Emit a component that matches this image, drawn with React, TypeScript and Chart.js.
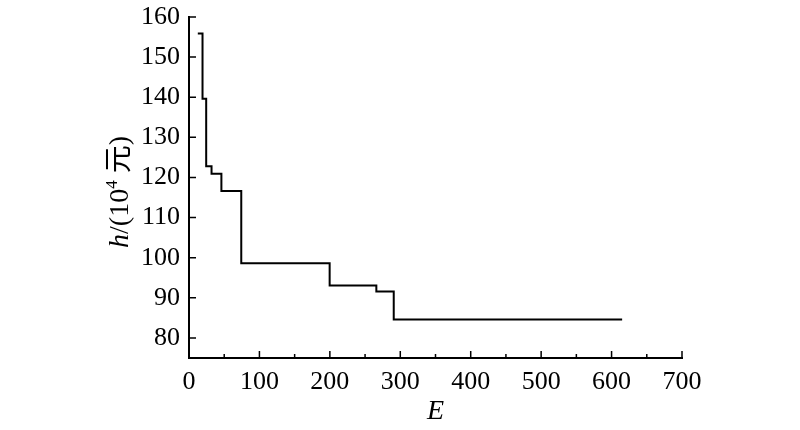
import React, { useEffect, useRef } from "react";
import { Chart, registerables } from "chart.js";

Chart.register(...registerables);

const stepE = [12.5, 19.2, 24.4, 32, 46, 74.2, 199.7, 266, 290.7, 615];
const stepH = [155.9, 139.6, 122.8, 120.9, 116.6, 98.6, 93.1, 91.6, 84.6, 84.6];
const xTicks = [0, 100, 200, 300, 400, 500, 600, 700];
const xMinorTicks = [50, 150, 250, 350, 450, 550, 650];
const yTicks = [80, 90, 100, 110, 120, 130, 140, 150, 160];
const xTitle = "E";
const yTitleParts = ["h", "/(10", "4", " 元)"];

const SERIF = "'Liberation Serif', 'Times New Roman', serif";

const tickPlugin = {
  id: "inwardTicks",
  afterDraw(chart: any) {
    const { ctx, chartArea, scales } = chart;
    const xs = scales.x;
    const ys = scales.y;
    ctx.save();
    ctx.strokeStyle = "#000";
    ctx.lineWidth = 1.5;
    ctx.beginPath();
    xTicks.forEach((v) => {
      const px = xs.getPixelForValue(v);
      ctx.moveTo(px, chartArea.bottom);
      ctx.lineTo(px, chartArea.bottom - 7);
    });
    xMinorTicks.forEach((v) => {
      const px = xs.getPixelForValue(v);
      ctx.moveTo(px, chartArea.bottom);
      ctx.lineTo(px, chartArea.bottom - 4);
    });
    yTicks.forEach((v) => {
      const py = ys.getPixelForValue(v);
      ctx.moveTo(chartArea.left, py);
      ctx.lineTo(chartArea.left + 7, py);
    });
    ctx.stroke();

    // x title
    ctx.fillStyle = "#000";
    ctx.font = `italic 28px ${SERIF}`;
    ctx.textAlign = "center";
    ctx.textBaseline = "middle";
    ctx.fillText(xTitle, (chartArea.left + chartArea.right) / 2, 412);

    // y title (rotated, mixed fonts)
    const fonts = [
      `italic 28px ${SERIF}`,
      `28px ${SERIF}`,
      `17px ${SERIF}`,
      `28px ${SERIF}, 'Noto Sans CJK SC'`,
    ];
    const rises = [0, 0, 11, 0];
    const widths = yTitleParts.map((t, i) => {
      ctx.font = fonts[i];
      return ctx.measureText(t).width;
    });
    const total = widths.reduce((a, b) => a + b, 0);
    ctx.translate(119, 192);
    ctx.rotate(-Math.PI / 2);
    ctx.textAlign = "left";
    ctx.textBaseline = "alphabetic";
    let cx = -total / 2;
    yTitleParts.forEach((t, i) => {
      ctx.font = fonts[i];
      ctx.fillText(t, cx, 9 - rises[i]);
      cx += widths[i];
    });
    ctx.restore();
  },
};

export default function App() {
  const ref = useRef<HTMLCanvasElement | null>(null);
  useEffect(() => {
    if (!ref.current) return;
    const chart = new Chart(ref.current, {
      type: "line",
      data: {
        datasets: [
          {
            data: stepE.map((e, i) => ({ x: e, y: stepH[i] })),
            borderColor: "#000",
            borderWidth: 2,
            pointRadius: 0,
            stepped: "before",
            fill: false,
          },
        ],
      },
      options: {
        animation: false,
        responsive: false,
        events: [],
        layout: { padding: { top: 17, right: 118, left: 0, bottom: 0 } },
        plugins: {
          legend: { display: false },
          tooltip: { enabled: false },
        },
        scales: {
          x: {
            type: "linear",
            min: 0,
            max: 700,
            afterBuildTicks: (axis: any) => {
              axis.ticks = xTicks.map((v) => ({ value: v }));
            },
            afterFit: (scale: any) => {
              scale.height = 72;
              scale.paddingLeft = 0;
              scale.paddingRight = 0;
            },
            grid: { display: false, drawTicks: false },
            border: { display: true, color: "#000", width: 2 },
            ticks: {
              color: "#000",
              padding: 9,
              maxRotation: 0,
              autoSkip: false,
              font: { family: SERIF, size: 26 },
            },
          },
          y: {
            type: "linear",
            min: 75,
            max: 160,
            afterBuildTicks: (axis: any) => {
              axis.ticks = yTicks.map((v) => ({ value: v }));
            },
            afterFit: (scale: any) => {
              scale.width = 189;
              scale.paddingTop = 0;
              scale.paddingBottom = 0;
            },
            grid: { display: false, drawTicks: false },
            border: { display: true, color: "#000", width: 2 },
            ticks: {
              color: "#000",
              padding: 9,
              autoSkip: false,
              font: { family: SERIF, size: 26 },
            },
          },
        },
      },
      plugins: [tickPlugin],
    });
    return () => chart.destroy();
  }, []);
  return (
    <div style={{ position: "fixed", left: 0, top: 0, width: 800, height: 430, background: "#fff" }}>
      <canvas ref={ref} width={800} height={430} style={{ width: 800, height: 430 }} />
    </div>
  );
}
